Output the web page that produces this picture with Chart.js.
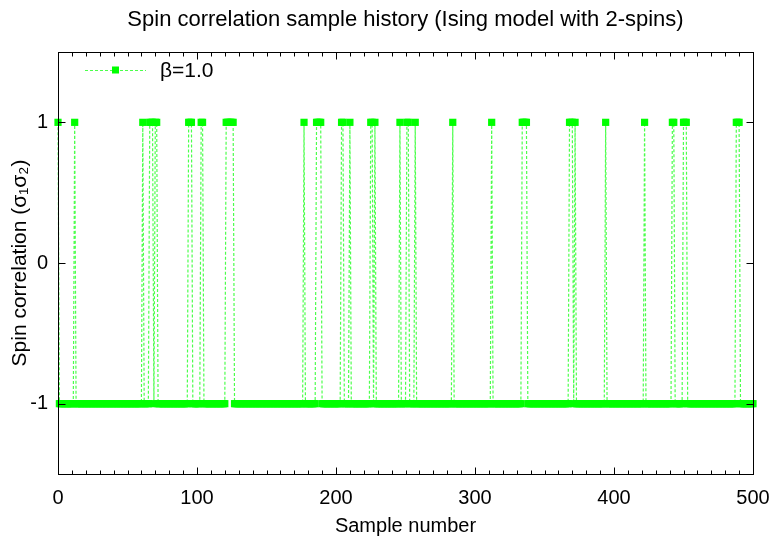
<!DOCTYPE html>
<html>
<head>
<meta charset="utf-8">
<script src="https://cdn.jsdelivr.net/npm/chart.js@4.4.0/dist/chart.umd.min.js"></script>
<style>
  html, body { margin: 0; padding: 0; background: #fff; }
  #wrap { width: 773px; height: 542px; }
</style>
</head>
<body>
<div id="wrap"><canvas id="c" width="773" height="542"></canvas></div>
<script>
/* Ising 2-spin sample history: sigma1*sigma2 is -1 everywhere except the
   sample numbers listed in upSamples (+1 runs). */
const FONT = "'Liberation Sans', Arial, Helvetica, sans-serif";
const TITLE = "Spin correlation sample history (Ising model with 2-spins)";
const sampleRange = [0, 500];
const upSamples = [
  0, 12, 61, 66, 67, 68, 70, 71, 94, 95, 96, 103, 104,
  121, 122, 123, 124, 125, 126, 177, 186, 187, 188, 189,
  204, 205, 210, 225, 226, 228, 246, 251, 252, 257, 284, 312,
  334, 335, 336, 337, 368, 369, 370, 372, 394, 422, 442, 443,
  450, 451, 452, 488, 489, 490,
];
const xTicks = [0, 100, 200, 300, 400, 500];
const xMinorTicks = [10, 20, 30, 40, 50, 60, 70, 80, 90, 110, 120, 130, 140, 150, 160, 170, 180, 190,
  210, 220, 230, 240, 250, 260, 270, 280, 290, 310, 320, 330, 340, 350, 360, 370, 380, 390,
  410, 420, 430, 440, 450, 460, 470, 480, 490];
const yTicks = [-1, 0, 1];

const GREEN = "#00ff00";
const LINE_GREEN = "#4cff4c";

const up = new Set(upSamples);
const points = [];
for (let s = sampleRange[0]; s <= sampleRange[1]; s++) points.push({ x: s, y: up.has(s) ? 1 : -1 });

Chart.defaults.color = "#000";
Chart.defaults.font.family = FONT;

// gnuplot-style frame: full border, inward major/minor ticks mirrored on all sides,
// title centred over the plot area, key top-left inside the frame
const framePlugin = {
  id: "frame",
  afterDatasetsDraw(chart) {
    const { ctx, chartArea: a, scales: { x, y } } = chart;
    const L = Math.round(a.left) + 0.5, R = Math.round(a.right) + 0.5;
    const T = Math.round(a.top) + 0.5, B = Math.round(a.bottom) + 0.5;
    ctx.save();
    ctx.strokeStyle = "#000";
    ctx.lineWidth = 1;
    ctx.beginPath();
    const vt = (v, len) => {
      const px = Math.round(x.getPixelForValue(v)) + 0.5;
      ctx.moveTo(px, B); ctx.lineTo(px, B - len);
      ctx.moveTo(px, T); ctx.lineTo(px, T + len);
    };
    xTicks.forEach(v => vt(v, 7));
    xMinorTicks.forEach(v => vt(v, 4));
    yTicks.forEach(v => {
      const py = Math.round(y.getPixelForValue(v)) + 0.5;
      ctx.moveTo(L, py); ctx.lineTo(L + 7, py);
      ctx.moveTo(R, py); ctx.lineTo(R - 7, py);
    });
    ctx.stroke();
    ctx.strokeRect(L, T, R - L, B - T);

    ctx.fillStyle = "#000";
    ctx.textBaseline = "middle";
    ctx.textAlign = "center";
    ctx.font = "22px " + FONT;
    ctx.fillText(TITLE, (a.left + a.right) / 2, 20);

    const ds = chart.data.datasets[0];
    const ky = 70;
    ctx.strokeStyle = ds.borderColor;
    ctx.lineWidth = ds.borderWidth;
    ctx.setLineDash(ds.borderDash);
    ctx.beginPath(); ctx.moveTo(85, ky + 0.5); ctx.lineTo(146, ky + 0.5); ctx.stroke();
    ctx.setLineDash([]);
    ctx.fillStyle = ds.pointBackgroundColor;
    ctx.fillRect(112, ky - 3.5, 7, 7);
    ctx.fillStyle = "#000";
    ctx.font = "21px " + FONT;
    ctx.textAlign = "left";
    ctx.fillText(ds.label, 160, ky + 1);
    ctx.restore();
  },
};

new Chart(document.getElementById("c"), {
  type: "line",
  data: {
    datasets: [{
      label: "β=1.0",
      data: points,
      borderColor: LINE_GREEN,
      borderWidth: 1.2,
      borderDash: [3, 2],
      pointStyle: "rect",
      pointRadius: 5.1,
      pointBorderWidth: 0,
      pointBackgroundColor: GREEN,
      pointBorderColor: GREEN,
      tension: 0,
      clip: 10,
    }],
  },
  options: {
    responsive: false,
    animation: false,
    events: [],
    layout: { padding: { left: 0, right: 20, top: 52, bottom: 0 } },
    plugins: {
      legend: { display: false },
      tooltip: { enabled: false },
      title: { display: false },
    },
    scales: {
      x: {
        type: "linear", min: 0, max: 500,
        afterBuildTicks: s => { s.ticks = xTicks.map(v => ({ value: v })); },
        afterFit: s => { s.height = 68; s.paddingLeft = 0; s.paddingRight = 0; },
        grid: { display: false, drawTicks: false },
        border: { display: false },
        ticks: { font: { size: 20 }, padding: 12, maxRotation: 0, autoSkip: false },
        title: { display: true, text: "Sample number", font: { size: 20 }, padding: { top: 0, bottom: 4 } },
      },
      y: {
        type: "linear", min: -1.5, max: 1.5,
        afterBuildTicks: s => { s.ticks = yTicks.map(v => ({ value: v })); },
        afterFit: s => { s.width = 58; s.paddingTop = 0; s.paddingBottom = 0; },
        grid: { display: false, drawTicks: false },
        border: { display: false },
        ticks: { font: { size: 20 }, padding: 10 },
        title: { display: true, text: "Spin correlation (σ₁σ₂)", font: { size: 21 }, padding: { top: 8, bottom: 0 } },
      },
    },
  },
  plugins: [framePlugin],
});
</script>
</body>
</html>
